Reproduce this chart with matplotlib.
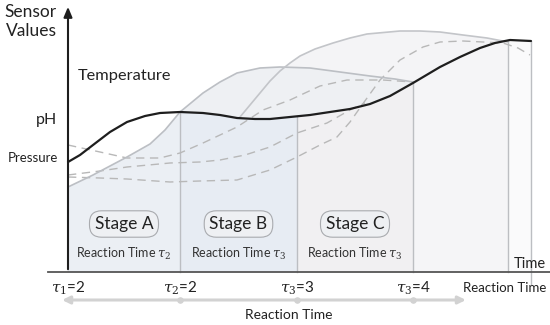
import numpy as np
import matplotlib
matplotlib.use("Agg")
import matplotlib.pyplot as plt

# Schematic diagram: sensor values vs reaction time (positions read in picture units, y grows downward)
plt.rcParams['font.family'] = ['Lato', 'DejaVu Sans']
plt.rcParams['mathtext.fontset'] = 'dejavuserif'

# --- data ---------------------------------------------------------------
X0, Y0 = 68, 272              # origin of the axes
stage_edges = [68, 180, 297, 413, 508, 531]
stage_names = ['Stage A', 'Stage B', 'Stage C']
stage_times = [r'Reaction Time $\tau_2$', r'Reaction Time $\tau_3$', r'Reaction Time $\tau_3$']
tick_labels = [r'$\tau_1$=2', r'$\tau_2$=2', r'$\tau_3$=3', r'$\tau_3$=4']
axis_labels = ['pH', 'Pressure']
axis_label_y = [120, 158]

# black sensor curve
main_x = [68, 80, 93, 110, 127, 145, 160, 180, 203, 220, 237, 255, 270, 290, 310, 330,
          350, 370, 390, 413, 440, 460, 480, 495, 510, 531]
main_y = [162, 155, 145, 132, 122, 116, 113, 112, 113, 115, 118, 119, 119, 117, 115, 112,
          109, 104, 96, 83, 67, 57, 48, 43, 40, 41]

# grey hump (stage A/B/C envelope)
hump_x = [68, 93, 127, 150, 165, 180, 203, 220, 237, 260, 280, 310, 340, 370, 395, 413]
hump_y = [187, 175, 157, 144, 130, 112, 93, 82, 73, 68, 67, 68, 72, 76, 79, 82]

# grey large S curve
big_x = [240, 250, 260, 270, 280, 290, 300, 315, 333, 350, 367, 400, 420, 440, 463, 487, 508]
big_y = [117, 105, 93, 81, 71, 63, 56, 49, 43, 38, 34, 31, 31, 32, 35, 38, 42]

# dashed hidden curves
d1_x = [68, 100, 127, 160, 180, 203, 220, 237, 263, 290, 320, 347, 383, 413]
d1_y = [145, 152, 158, 158, 153, 143, 135, 127, 110, 100, 86, 80, 80, 82]
d2_x = [68, 100, 127, 170, 200, 220, 245, 270, 297, 327, 350, 365]
d2_y = [175, 171, 167, 163, 162, 160, 155, 147, 133, 123, 110, 103]
d3_x = [68, 100, 127, 170, 200, 237, 270, 297, 320, 337, 350, 362, 380, 400, 423, 440, 463, 503, 518, 530]
d3_y = [177, 178, 179, 182, 181, 180, 170, 157, 145, 137, 122, 105, 80, 60, 47, 42, 41, 43, 48, 55]


def segment(xs, ys, x0, x1):
    """points of a curve between x0 and x1 (ends taken on the curve)"""
    xs = np.asarray(xs, float)
    ys = np.asarray(ys, float)
    inside = (xs > x0) & (xs < x1)
    sx = np.concatenate([[x0], xs[inside], [x1]])
    sy = np.concatenate([[np.interp(x0, xs, ys)], ys[inside], [np.interp(x1, xs, ys)]])
    return sx, sy


def fill_under(ax, xs, ys, x0, x1, color):
    sx, sy = segment(xs, ys, x0, x1)
    ax.fill(np.concatenate([sx, [x1, x0]]), np.concatenate([sy, [Y0, Y0]]),
            color=color, lw=0, zorder=1)


fig = plt.figure(figsize=(5.5, 3.25), dpi=100)
ax = fig.add_axes([0, 0, 1, 1])
ax.set_xlim(0, 550)
ax.set_ylim(325, 0)
ax.axis('off')

# fills, back to front
fill_under(ax, big_x, big_y, 240, 508, '#f4f4f6')
fill_under(ax, hump_x, hump_y, 180, 413, '#eef0f3')
fill_under(ax, hump_x, hump_y, 68, 180, '#ebeff4')
fill_under(ax, main_x, main_y, 180, 297, '#e7ecf3')
fill_under(ax, main_x, main_y, 297, 413, '#f1f0f2')
fill_under(ax, main_x, main_y, 413, 508, '#f5f5f7')
fill_under(ax, main_x, main_y, 508, 531, '#fafafb')

# vertical stage separators
for xe in stage_edges[1:]:
    top = np.interp(xe, main_x, main_y)
    bottom = Y0 + 13 if xe == stage_edges[-1] else Y0
    ax.plot([xe, xe], [top, bottom], color='#bcbec2', lw=1.0, zorder=2)

# dashed curves
for dx, dy in [(d1_x, d1_y), (d2_x, d2_y), (d3_x, d3_y)]:
    ax.plot(dx, dy, color='#b8b8b8', lw=1.0, ls=(0, (6, 4)), zorder=3)

# grey envelopes
ax.plot(hump_x, hump_y, color='#bcbfc4', lw=1.2, zorder=3)
ax.plot(big_x, big_y, color='#c3c5c9', lw=1.2, zorder=3)

# black sensor curve
ax.plot(main_x, main_y, color='#1e1e1e', lw=1.6, zorder=5, solid_capstyle='round')

# axes
ax.plot([48, 550], [Y0, Y0], color='#555555', lw=1.3, zorder=6)
ax.annotate('', xy=(X0, 4), xytext=(X0, Y0),
            arrowprops=dict(arrowstyle='-|>,head_length=0.6,head_width=0.25',
                            color='#1e1e1e', lw=1.5), zorder=6)

# axis texts
ax.text(57, 12, 'Sensor', ha='right', va='center', fontsize=12.5, color='#222222')
ax.text(57, 31, 'Values', ha='right', va='center', fontsize=12.5, color='#222222')
ax.text(78, 76, 'Temperature', ha='left', va='center', fontsize=11.8, color='#222222')
ax.text(57, axis_label_y[0], axis_labels[0], ha='right', va='center', fontsize=11.5, color='#222222')
ax.text(58, axis_label_y[1], axis_labels[1], ha='right', va='center', fontsize=9.5, color='#222222')
ax.text(546, 264, 'Time', ha='right', va='center', fontsize=10.5, color='#222222')

# stage labels
for i, name in enumerate(stage_names):
    xc = (stage_edges[i] + stage_edges[i + 1]) / 2
    ax.text(xc, 224, name, ha='center', va='center', fontsize=12.5, color='#222222', zorder=7,
            bbox=dict(boxstyle='round,pad=0.3,rounding_size=0.7', fc='#eef0f3', ec='#a9abaf', lw=0.8))
    ax.text(xc, 254, stage_times[i], ha='center', va='center', fontsize=9, color='#333333', zorder=7)

# tick labels below the axis
for xe, lab in zip(stage_edges[:4], tick_labels):
    ax.text(xe, 288, lab, ha='center', va='center', fontsize=11, color='#222222')
ax.text(505, 288, 'Reaction Time', ha='center', va='center', fontsize=9.5, color='#222222')

# reaction time arrow
ax.annotate('', xy=(62, 300), xytext=(466, 300),
            arrowprops=dict(arrowstyle='<|-|>,head_length=0.45,head_width=0.22',
                            color='#d2d2d2', lw=2.2, shrinkA=0, shrinkB=0))
ax.scatter(stage_edges[1:4], [300] * 3, s=14, color='#d2d2d2', zorder=4)
ax.text(289, 315, 'Reaction Time', ha='center', va='center', fontsize=10, color='#222222')

fig.savefig('out.png', dpi=100)
